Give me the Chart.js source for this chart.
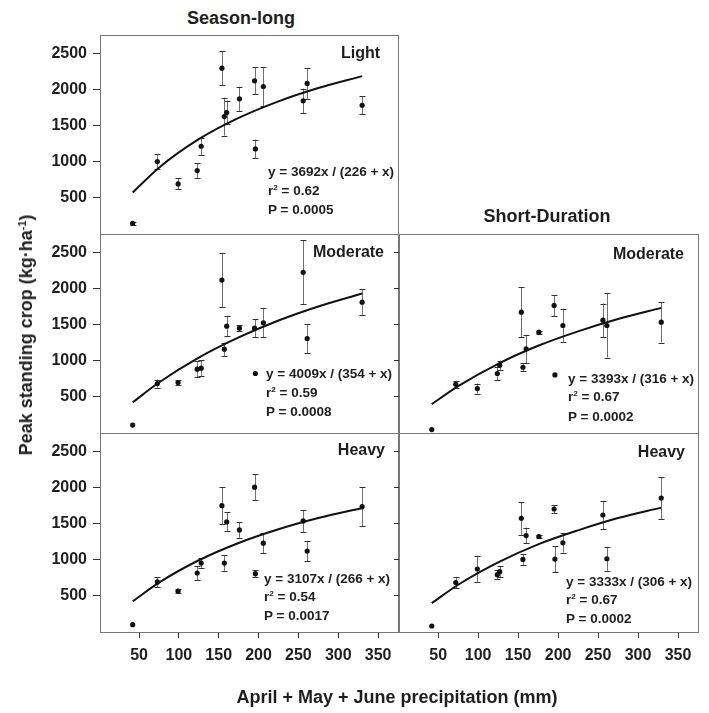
<!DOCTYPE html>
<html>
<head>
<meta charset="utf-8">
<script src="https://cdn.jsdelivr.net/npm/chart.js@4"></script>
<style>
  body { margin: 0; background: #fff; }
  #wrap { position: relative; width: 709px; height: 713px; overflow: hidden;
          font-family: 'Liberation Sans', Arial, sans-serif; color: #1e1e1e; }
  #wrap canvas { position: absolute; }
  .t { position: absolute; white-space: nowrap; font-weight: bold; line-height: 1; }
  .t sup { font-size: 0.6em; vertical-align: 0.6em; line-height: 0; }
</style>
</head>
<body>
<div id="wrap"></div>
<script>
// Axis ticks
const xTicks = [50, 100, 150, 200, 250, 300, 350];
const yTicks = [500, 1000, 1500, 2000, 2500];

// Season-long, light
const lightX = [42, 73, 99, 123, 128, 154, 157, 160, 176, 195, 196, 206, 256, 261, 330];
const lightY = [147, 1004, 694, 879, 1217, 2300, 1629, 1685, 1875, 2125, 1180, 2046, 1847, 2088, 1786];
const lightErr = [25, 100, 76, 100, 120, 238, 264, 165, 167, 190, 130, 270, 170, 213, 123];

// Season-long, moderate
const modLX = [42, 73, 99, 123, 128, 154, 157, 160, 176, 195, 196, 206, 256, 261, 330];
const modLY = [110, 686, 700, 885, 899, 2121, 1162, 1482, 1454, 1454, 825, 1528, 2228, 1311, 1815];
const modLErr = [0, 55, 35, 115, 108, 375, 93, 143, 42, 127, 0, 200, 444, 200, 178];

// Season-long, heavy
const heavyLX = [42, 73, 99, 123, 128, 154, 157, 160, 176, 195, 196, 206, 256, 261, 330];
const heavyLY = [101, 694, 566, 818, 956, 1752, 956, 1527, 1416, 2009, 809, 1232, 1540, 1122, 1738];
const heavyLErr = [0, 69, 25, 97, 67, 253, 106, 131, 110, 179, 45, 143, 154, 143, 271];

// Short-duration, moderate
const modRX = [42, 72, 99, 124, 127, 154, 156, 160, 176, 195, 196, 206, 256, 261, 329];
const modRY = [47, 676, 616, 825, 940, 1676, 912, 1167, 1399, 1769, 806, 1491, 1565, 1491, 1537];
const modRErr = [0, 46, 70, 93, 65, 347, 58, 197, 20, 146, 0, 234, 231, 444, 282];

// Short-duration, heavy
const heavyRX = [42, 72, 99, 124, 127, 154, 156, 160, 176, 195, 196, 206, 256, 261, 329];
const heavyRY = [83, 685, 874, 795, 837, 1577, 1007, 1338, 1324, 1706, 1011, 1237, 1623, 1016, 1857];
const heavyRErr = [0, 80, 184, 62, 76, 228, 76, 110, 20, 55, 184, 136, 195, 166, 287];

// Fitted curves
const fitX = [42, 75, 125, 175, 225, 275, 330];
const lightFit = [575, 920, 1315, 1610, 1840, 2025, 2190];
const modLFit = [425, 700, 1045, 1325, 1560, 1755, 1935];
const heavyLFit = [425, 685, 995, 1235, 1425, 1580, 1720];
const fitXR = [42, 75, 125, 175, 225, 275, 329];
const modRFit = [400, 650, 960, 1210, 1410, 1580, 1735];
const heavyRFit = [400, 655, 965, 1215, 1410, 1580, 1725];

const FONT = "'Liberation Sans', Arial, sans-serif";
const wrap = document.getElementById('wrap');

// error bars + panel box
const errorBars = {
    id: 'errorBars',
    beforeDatasetsDraw(chart) {
        const { ctx, scales: { x, y } } = chart;
        const ds = chart.data.datasets[0];
        const errs = ds.errors;
        ctx.save();
        ctx.lineWidth = 1;
        ds.data.forEach((p, i) => {
            const e = errs[i];
            if (!e) return;
            const px = Math.round(x.getPixelForValue(p.x)) + 0.5;
            const top = y.getPixelForValue(p.y + e);
            const bot = y.getPixelForValue(p.y - e);
            ctx.strokeStyle = '#707070';
            ctx.beginPath();
            ctx.moveTo(px, top);
            ctx.lineTo(px, bot);
            ctx.stroke();
            ctx.strokeStyle = '#333';
            ctx.beginPath();
            ctx.moveTo(px - 3, Math.round(top) + 0.5);
            ctx.lineTo(px + 3, Math.round(top) + 0.5);
            ctx.moveTo(px - 3, Math.round(bot) + 0.5);
            ctx.lineTo(px + 3, Math.round(bot) + 0.5);
            ctx.stroke();
        });
        ctx.restore();
    },
    afterDraw(chart) {
        const { ctx, chartArea: a } = chart;
        ctx.save();
        ctx.strokeStyle = '#777';
        ctx.lineWidth = 1;
        ctx.strokeRect(Math.round(a.left) + 0.5, Math.round(a.top) + 0.5,
            Math.round(a.right - a.left), Math.round(a.bottom - a.top));
        ctx.restore();
    }
};

function makePanel(box, xs, ys, errs, fx, fy) {
    const cv = document.createElement('canvas');
    cv.width = box.w;
    cv.height = box.h;
    cv.style.left = box.left + 'px';
    cv.style.top = box.top + 'px';
    wrap.appendChild(cv);

    new Chart(cv.getContext('2d'), {
        type: 'scatter',
        data: {
            datasets: [{
                data: xs.map((v, i) => ({ x: v, y: ys[i] })),
                errors: errs,
                pointRadius: 2.6,
                pointBackgroundColor: '#111',
                pointBorderWidth: 0,
                showLine: false,
                order: 1
            }, {
                data: fx.map((v, i) => ({ x: v, y: fy[i] })),
                showLine: true,
                borderColor: '#111',
                borderWidth: 2,
                pointRadius: 0,
                cubicInterpolationMode: 'monotone',
                order: 2
            }]
        },
        options: {
            responsive: false,
            animation: false,
            events: [],
            layout: { padding: box.pad },
            plugins: { legend: { display: false }, tooltip: { enabled: false } },
            scales: {
                x: {
                    display: box.xAxis,
                    min: 1, max: 375,
                    afterBuildTicks: s => { s.ticks = xTicks.map(v => ({ value: v })); },
                    afterFit: s => {
                        s.height = box.xAxis ? 40 : 0;
                        s.paddingLeft = 0; s.paddingRight = 0;
                    },
                    grid: { drawOnChartArea: false, tickLength: 6, tickColor: '#333' },
                    border: { display: false },
                    ticks: { color: '#1e1e1e', padding: 8, maxRotation: 0,
                             callback: v => String(v),
                             font: { family: FONT, size: 16, weight: 'bold' } }
                },
                y: {
                    min: 0, max: 2760,
                    afterBuildTicks: s => { s.ticks = yTicks.map(v => ({ value: v })); },
                    afterFit: s => {
                        s.width = box.yW;
                        s.paddingTop = 0; s.paddingBottom = 0;
                    },
                    grid: { drawOnChartArea: false, tickLength: box.yLabels ? 7 : 5, tickColor: '#333' },
                    border: { display: false },
                    ticks: { display: box.yLabels, color: '#1e1e1e', padding: 6,
                             callback: v => String(v),
                             font: { family: FONT, size: 16, weight: 'bold' } }
                }
            }
        },
        plugins: [errorBars]
    });
}

const padTop = { left: 0, right: 3, top: 5, bottom: 6 };
const padBot = { left: 0, right: 3, top: 5, bottom: 41 };
const padTopR = { left: 0, right: 4, top: 5, bottom: 6 };
const padBotR = { left: 0, right: 4, top: 5, bottom: 41 };

makePanel({ left: 0, top: 30, w: 402, h: 210, pad: padTop, yW: 100, yLabels: true, xAxis: false },
    lightX, lightY, lightErr, fitX, lightFit);
makePanel({ left: 0, top: 229, w: 402, h: 210, pad: padTop, yW: 100, yLabels: true, xAxis: false },
    modLX, modLY, modLErr, fitX, modLFit);
makePanel({ left: 0, top: 428, w: 402, h: 285, pad: padBot, yW: 100, yLabels: true, xAxis: true },
    heavyLX, heavyLY, heavyLErr, fitX, heavyLFit);
makePanel({ left: 390, top: 229, w: 312, h: 210, pad: padTopR, yW: 9, yLabels: false, xAxis: false },
    modRX, modRY, modRErr, fitXR, modRFit);
makePanel({ left: 390, top: 428, w: 312, h: 285, pad: padBotR, yW: 9, yLabels: false, xAxis: true },
    heavyRX, heavyRY, heavyRErr, fitXR, heavyRFit);

// text
function label(html, x, y, size, align) {
    const d = document.createElement('div');
    d.className = 't';
    d.innerHTML = html;
    d.style.fontSize = size + 'px';
    d.style.left = x + 'px';
    d.style.top = y + 'px';
    const tx = align === 'left' ? '0' : align === 'right' ? '-100%' : '-50%';
    d.style.transform = 'translate(' + tx + ',-50%)';
    wrap.appendChild(d);
    return d;
}

label('Season-long', 241, 18, 18, 'center');
label('Short-Duration', 547, 216, 18, 'center');

label('Light', 380, 53, 16, 'right');
label('Moderate', 384, 252, 16, 'right');
label('Heavy', 385, 450, 16, 'right');
label('Moderate', 684, 254, 16, 'right');
label('Heavy', 685, 452, 16, 'right');

function stats(x, ys, eq, r2, p) {
    label(eq, x, ys[0], 13.5, 'left');
    label('r<sup>2</sup> = ' + r2, x, ys[1], 13.5, 'left');
    label('P = ' + p, x, ys[2], 13.5, 'left');
}
stats(268, [172, 191, 210], 'y = 3692x / (226 + x)', '0.62', '0.0005');
stats(266, [374, 393, 412], 'y = 4009x / (354 + x)', '0.59', '0.0008');
stats(264, [579, 597, 616], 'y = 3107x / (266 + x)', '0.54', '0.0017');
stats(568, [379, 397, 417], 'y = 3393x / (316 + x)', '0.67', '0.0002');
stats(566, [582, 600, 619], 'y = 3333x / (306 + x)', '0.67', '0.0002');

label('April + May + June precipitation (mm)', 397, 697, 18, 'center');
const yt = label('Peak standing crop (kg·ha<sup>-1</sup>)', 26, 335, 18, 'center');
yt.style.transform = 'translate(-50%,-50%) rotate(-90deg)';
</script>
</body>
</html>
